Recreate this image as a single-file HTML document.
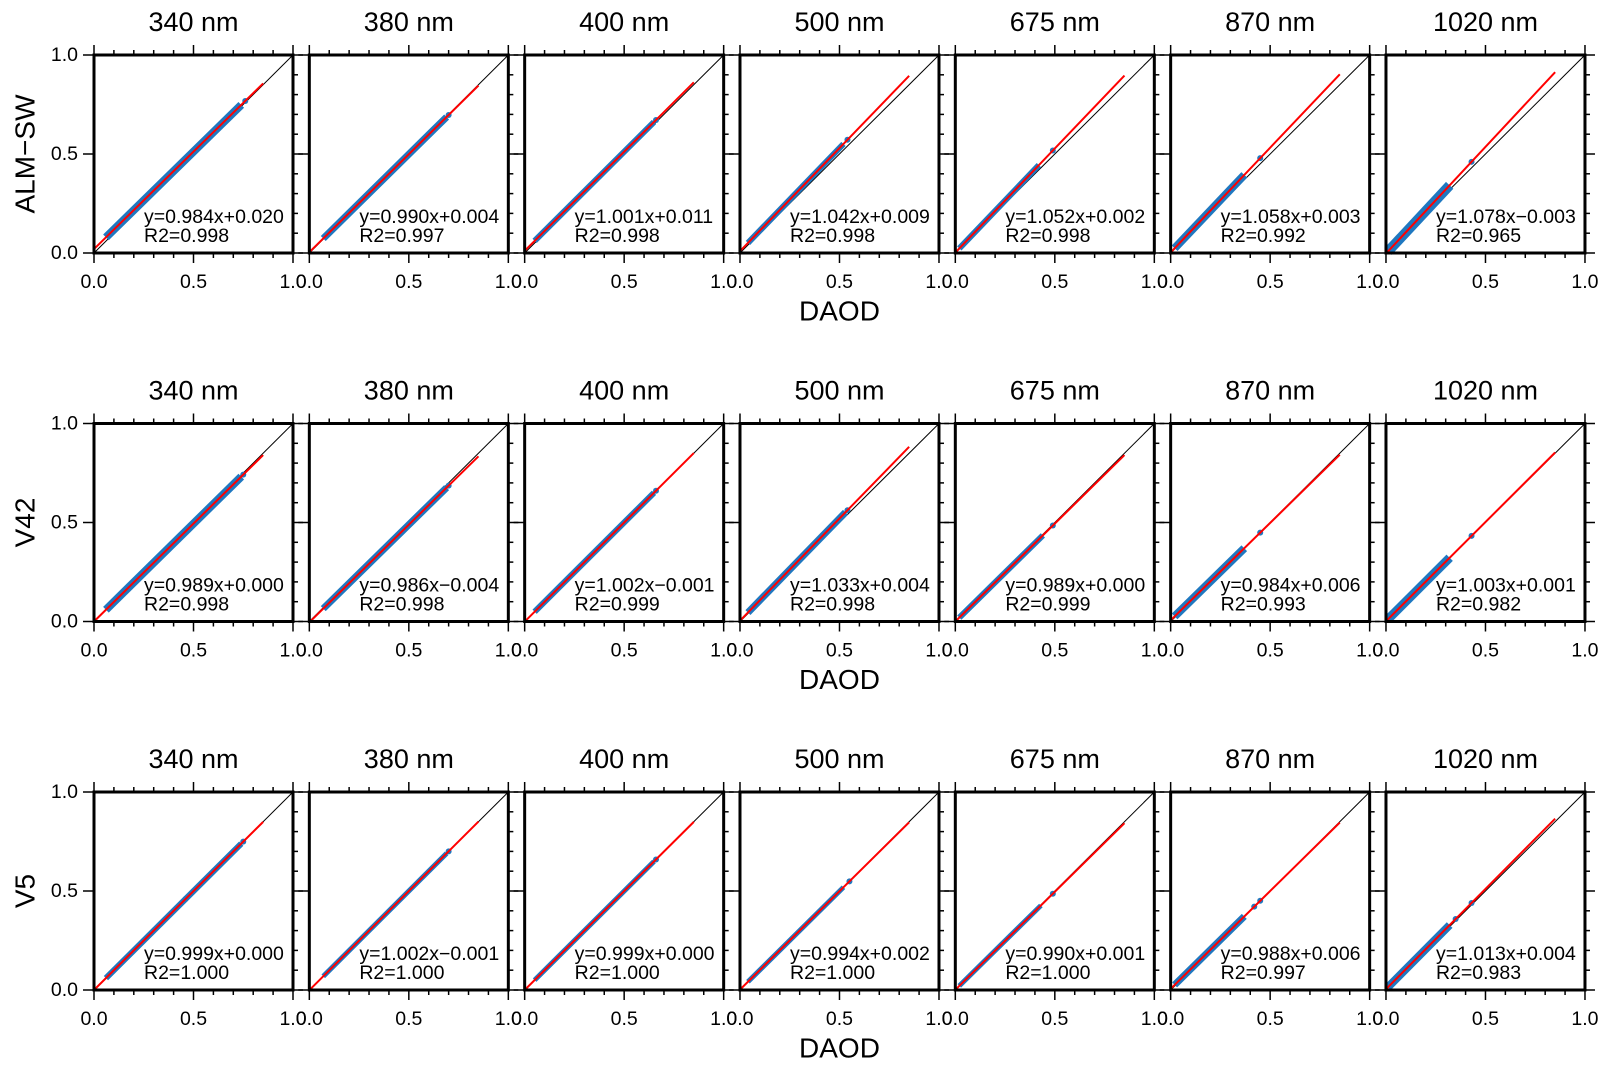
<!DOCTYPE html>
<html><head><meta charset="utf-8"><style>
html,body{margin:0;padding:0;background:#fff;}
svg text{font-family:"Liberation Sans",Arial,sans-serif;fill:#000;}
</style></head><body>
<svg id="fig" width="1612" height="1073" viewBox="0 0 1612 1073" xmlns="http://www.w3.org/2000/svg"></svg>
<script>
const wavelengths = ["340 nm","380 nm","400 nm","500 nm","675 nm","870 nm","1020 nm"];
const rowLabels = ["ALM\u2212SW","V42","V5"];
const xTicks = [0,0.5,1.0];
const xTickLabels = ["0.0","0.5","1.0"];
const slopes = [
 [0.984,0.990,1.001,1.042,1.052,1.058,1.078],
 [0.989,0.986,1.002,1.033,0.989,0.984,1.003],
 [0.999,1.002,0.999,0.994,0.990,0.988,1.013]];
const intercepts = [
 [0.020,0.004,0.011,0.009,0.002,0.003,-0.003],
 [0.000,-0.004,-0.001,0.004,0.000,0.006,0.001],
 [0.000,-0.001,0.000,0.002,0.001,0.006,0.004]];
const r2 = [
 [0.998,0.997,0.998,0.998,0.998,0.992,0.965],
 [0.998,0.998,0.999,0.998,0.999,0.993,0.982],
 [1.000,1.000,1.000,1.000,1.000,0.997,0.983]];
const xMin = [
 [0.06,0.07,0.05,0.04,0.02,0.02,0.01],
 [0.06,0.07,0.05,0.04,0.02,0.02,0.01],
 [0.06,0.07,0.05,0.04,0.02,0.02,0.01]];
const xMax = [
 [0.74,0.69,0.65,0.52,0.42,0.37,0.32],
 [0.74,0.69,0.65,0.53,0.44,0.37,0.32],
 [0.74,0.69,0.65,0.52,0.43,0.37,0.32]];
const outlierX = [
 [[0.76],[0.70],[0.66],[0.54],[0.49],[0.45],[0.43]],
 [[0.75],[0.70],[0.66],[0.54],[0.49],[0.45],[0.43]],
 [[0.46,0.75],[0.70],[0.66],[0.55],[0.49],[0.42,0.45],[0.35,0.43]]];
const bandWidth = [
 [8,7,6,6,6,8,10],
 [8,7,6,7,6,8,9],
 [6,5,5,5,5,7,8]];
const fitEnd = 0.85;

const NS="http://www.w3.org/2000/svg";
const svg=document.getElementById('fig');
function mk(tag,attrs,parent){const e=document.createElementNS(NS,tag);for(const k in attrs)e.setAttribute(k,attrs[k]);(parent||svg).appendChild(e);return e;}
const W=199,H=198,L0=94,DX=215.33,T0=55,DY=368.5;

for(let r=0;r<3;r++){
 const top=T0+r*DY, bottom=top+H;
 const yl=mk('text',{x:25,y:top+H/2,'font-size':28,'text-anchor':'middle','dominant-baseline':'central',transform:`rotate(-90 25 ${top+H/2})`});
 
 
 yl.textContent=rowLabels[r];
 for(let c=0;c<7;c++){
  const left=L0+c*DX;
  const sx=v=>left+v*W, sy=v=>bottom-v*H;
  const g=mk('g',{});
  
  
  const t=mk('text',{x:left+W/2,y:top-33,'font-size':27,'text-anchor':'middle','dominant-baseline':'central'},g);
  
  
  t.textContent=wavelengths[c];
  for(let k=0;k<=10;k++){
   const v=k/10, major=(k%5===0), len=major?10:5;
   mk('line',{x1:sx(v),y1:bottom,x2:sx(v),y2:bottom+len,stroke:'#000','stroke-width':1.5},g);
   mk('line',{x1:sx(v),y1:top,x2:sx(v),y2:top-len,stroke:'#000','stroke-width':1.5},g);
   mk('line',{x1:left+W,y1:sy(v),x2:left+W+len,y2:sy(v),stroke:'#000','stroke-width':1.5},g);
   if(major) mk('line',{x1:left,y1:sy(v),x2:left-11,y2:sy(v),stroke:'#000','stroke-width':1.5},g);
  }
  xTicks.forEach((v,i)=>{
   const tl=mk('text',{x:sx(v),y:bottom+29,'font-size':19.5,'text-anchor':'middle','dominant-baseline':'central'},g);
   
   
   tl.textContent=xTickLabels[i];
   if(c===0){
    const yt=mk('text',{x:left-16,y:sy(v),'font-size':19.5,'text-anchor':'end','dominant-baseline':'central'},g);
    
    
    yt.textContent=xTickLabels[i];
   }
  });
  const d=mk('line',{x1:sx(0),y1:sy(0),x2:sx(1),y2:sy(1),stroke:'#000','stroke-width':1},g);
  
  
  const a=slopes[r][c], b=intercepts[r][c];
  const band=mk('line',{x1:sx(xMin[r][c]),y1:sy(a*xMin[r][c]+b),x2:sx(xMax[r][c]),y2:sy(a*xMax[r][c]+b),stroke:'#1f78c0','stroke-width':bandWidth[r][c],'stroke-linecap':'butt'},g);
  
  
  outlierX[r][c].forEach(x=>{
   const p=mk('circle',{cx:sx(x),cy:sy(a*x+b),r:3,fill:'#1f78c0'},g);
   
   
  });
  const f=mk('line',{x1:sx(0),y1:sy(b),x2:sx(fitEnd),y2:sy(a*fitEnd+b),stroke:'#f00','stroke-width':2},g);
  
  
  const fr=mk('rect',{x:left,y:top,width:W,height:H,fill:'none',stroke:'#000','stroke-width':3},g);
  
  
  const eq=mk('text',{x:left+50,y:top+162,'font-size':19.5,'dominant-baseline':'central'},g);
  
  
  eq.textContent='y='+a.toFixed(3)+'x'+(b<0?'\u2212':'+')+Math.abs(b).toFixed(3);
  const rr=mk('text',{x:left+50,y:top+181,'font-size':19.5,'dominant-baseline':'central'},g);
  
  
  rr.textContent='R2='+r2[r][c].toFixed(3);
 }
 const xl=mk('text',{x:L0+3*DX+W/2,y:bottom+58,'font-size':28,'text-anchor':'middle','dominant-baseline':'central'});
 
 
 xl.textContent='DAOD';
}
</script>
</body></html>
